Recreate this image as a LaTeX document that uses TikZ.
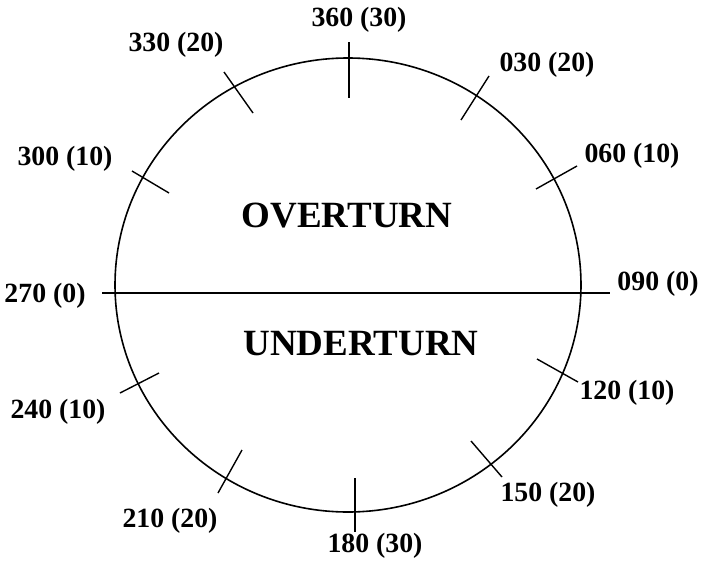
\documentclass[tikz,border=0pt]{standalone}
\usepackage{fontspec}
\setmainfont{Liberation Serif}
\begin{document}
\begin{tikzpicture}[x=1pt,y=-1pt,
  lbl/.style={font=\fontsize{27.8}{30}\selectfont\bfseries, inner sep=0pt},
  big/.style={font=\fontsize{37}{40}\selectfont\bfseries, inner sep=0pt},
  tick/.style={line width=1.4pt},
  rim/.style={line width=1.6pt},
  axis/.style={line width=2.2pt}]
\useasboundingbox (0,0) rectangle (702,565);
\draw[rim] (348,285) ellipse [x radius=233pt, y radius=227pt];
% horizontal line
\coordinate (hl) at (102,293);
\coordinate (hr) at (610,293);
\draw[axis] (hl) -- (hr);
% ticks
\draw[tick] (349,42) -- (349,98);
\draw[tick] (489,76) -- (461,120);
\draw[tick] (577,166) -- (536,189);
\draw[tick] (578,382) -- (537,359);
\draw[tick] (502,477) -- (471,441);
\draw[tick] (355,478) -- (355,532);
\draw[tick] (242,450) -- (218,493);
\draw[tick] (159,373) -- (120,393);
\draw[tick] (132,171) -- (169,193);
\draw[tick] (224,72) -- (253,113);
% labels
\node[lbl] (n360) at (359,20) {360 (30)};
\node[lbl] (n030) at (547,65) {030 (20)};
\node[lbl] (n060) at (632,156) {060 (10)};
\node[lbl] (n090) at (658,284) {090 (0)};
\node[lbl] (n120) at (627,393) {120 (10)};
\node[lbl] (n150) at (548,495) {150 (20)};
\node[lbl] (n180) at (375,546) {180 (30)};
\node[lbl] (n210) at (170,521) {210 (20)};
\node[lbl] (n240) at (58,412) {240 (10)};
\node[lbl] (n270) at (45,296) {270 (0)};
\node[lbl] (n300) at (65,159) {300 (10)};
\node[lbl] (n330) at (176,45) {330 (20)};
\node[big] (over) at (347,216) {OVERTURN};
\node[big] (under) at (361,344) {UNDERTURN};
\end{tikzpicture}
\end{document}
